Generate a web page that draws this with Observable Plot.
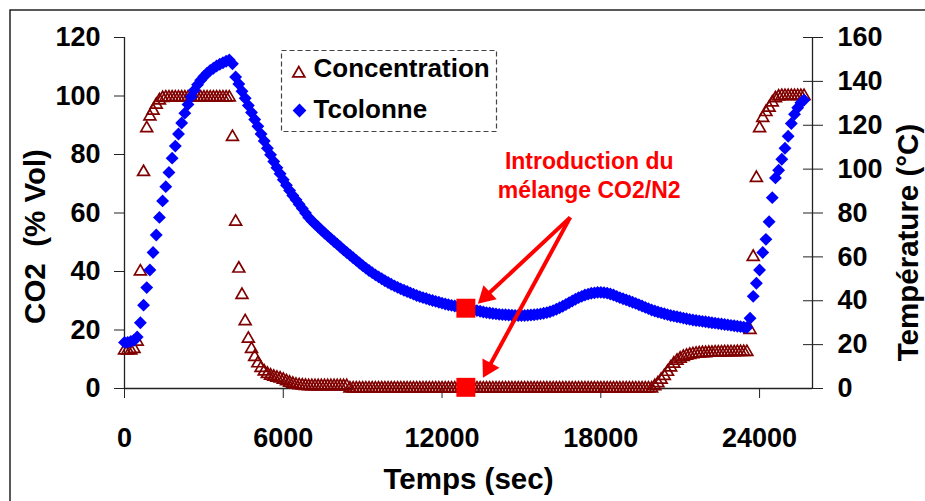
<!DOCTYPE html>
<html>
<head>
<meta charset="utf-8">
<script src="https://cdn.jsdelivr.net/npm/d3@7"></script>
<script src="https://cdn.jsdelivr.net/npm/@observablehq/plot@0.6"></script>
<style>
  html, body { margin: 0; padding: 0; background: #fff; overflow: hidden; }
</style>
</head>
<body>
<div id="chart"></div>
<script>
// Sampling times (s)
const time = [
  0,120,240,360,480,600,720,840,960,1080,
  1200,1320,1440,1560,1680,1800,1920,2040,2160,2280,
  2400,2520,2640,2760,2880,3000,3120,3240,3360,3480,
  3600,3720,3840,3960,4080,4200,4320,4440,4560,4680,
  4800,4920,5040,5160,5280,5400,5520,5640,5760,5880,
  6000,6120,6240,6360,6480,6600,6720,6840,6960,7080,
  7200,7320,7440,7560,7680,7800,7920,8040,8160,8280,
  8400,8520,8640,8760,8880,9000,9120,9240,9360,9480,
  9600,9720,9840,9960,10080,10200,10320,10440,10560,10680,
  10800,10920,11040,11160,11280,11400,11520,11640,11760,11880,
  12000,12120,12240,12360,12480,12600,12720,12840,12960,13080,
  13200,13320,13440,13560,13680,13800,13920,14040,14160,14280,
  14400,14520,14640,14760,14880,15000,15120,15240,15360,15480,
  15600,15720,15840,15960,16080,16200,16320,16440,16560,16680,
  16800,16920,17040,17160,17280,17400,17520,17640,17760,17880,
  18000,18120,18240,18360,18480,18600,18720,18840,18960,19080,
  19200,19320,19440,19560,19680,19800,19920,20040,20160,20280,
  20400,20520,20640,20760,20880,21000,21120,21240,21360,21480,
  21600,21720,21840,21960,22080,22200,22320,22440,22560,22680,
  22800,22920,23040,23160,23280,23400,23520,23640,23760,23880,
  24000,24120,24240,24360,24480,24600,24720,24840,24960,25080,
  25200,25320,25440,25560,25680
];

// CO2 concentration (% Vol), left axis
const concentration = [
  13,13,13,13.5,16,40,74,89,93,95,
  97,98.5,99.3,99.5,99.5,99.5,99.5,99.5,99.5,99.5,
  99.5,99.5,99.5,99.5,99.5,99.5,99.5,99.5,99.5,99.5,
  99.5,99.5,99.5,99.5,86,57,41,32,23,17,
  13.5,10.8,8.6,7,5.8,5,4.4,4,3.7,3.4,
  3,2.5,2,1.6,1.3,1.1,1,0.9,0.8,0.8,
  0.8,0.8,0.8,0.8,0.8,0.8,0.8,0.8,0.8,0.8,
  0.8,0,0,0,0,0,0,0,0,0,
  0,0,0,0,0,0,0,0,0,0,
  0,0,0,0,0,0,0,0,0,0,
  0,0,0,0,0,0,0,0,0,0,
  0,0,0,0,0,0,0,0,0,0,
  0,0,0,0,0,0,0,0,0,0,
  0,0,0,0,0,0,0,0,0,0,
  0,0,0,0,0,0,0,0,0,0,
  0,0,0,0,0,0,0,0,0,0,
  0,0,0,0,0,0,0,0.8,1.8,3,
  4.3,5.7,7.2,8.5,9.5,10.2,10.8,11.2,11.5,11.7,
  11.9,12,12.1,12.1,12.2,12.2,12.3,12.3,12.3,12.4,
  12.4,12.4,12.4,12.5,12.5,12.5,12.5,20,45,72,
  89,92.5,94.5,96,97.8,99.2,99.8,100,100,100,
  100,100,100,100,100
];

// Column temperature (°C), right axis
const tcolonne = [
  21,21,21.5,22,23.5,30,38,46,54,62,
  70,78,85.5,92,98.5,105,110.5,116,121,125.5,
  129.5,133,136,138.5,140.5,142.2,143.7,145,146,147,
  147.8,148.5,149.2,149.8,148,142,138.8,135.5,132.3,129,
  125.8,122.6,119.5,116,112.8,109.5,106.5,103.5,100.6,97.9,
  95.2,92.6,90.2,88,86,84,82,80,78,76.4,
  75,73.6,72.2,70.9,69.6,68.3,67,65.8,64.5,63.2,
  62,60.8,59.6,58.4,57.2,56,54.9,53.8,52.8,51.8,
  50.9,50,49.1,48.3,47.5,46.8,46.1,45.4,44.8,44.2,
  43.6,43,42.4,41.9,41.4,41,40.5,40.1,39.7,39.3,
  38.9,38.5,38.2,37.9,37.6,37.3,37,36.7,36.4,36.1,
  35.8,35.5,35.2,34.9,34.6,34.4,34.2,34,33.8,33.7,
  33.6,33.5,33.4,33.3,33.3,33.3,33.3,33.4,33.5,33.6,
  33.8,34,34.3,34.6,35,35.5,36.1,36.8,37.5,38.3,
  39.1,39.9,40.7,41.4,42,42.6,43,43.4,43.6,43.8,
  43.8,43.7,43.5,43.1,42.6,42,41.4,40.9,40.4,39.9,
  39.3,38.8,38.2,37.6,37,36.4,35.8,35.3,34.9,34.5,
  34.1,33.7,33.3,33,32.7,32.4,32.1,31.8,31.5,31.2,
  31,30.8,30.6,30.4,30.2,30,29.8,29.6,29.4,29.2,
  29,28.8,28.6,28.4,28.2,28,27.8,32,42,48,
  54,62,68,76,87,96,99.5,104.5,109.5,115,
  120.8,125,128,130.2,131.5
];

const xTicks = [0, 6000, 12000, 18000, 24000];
const co2Ticks = [0, 20, 40, 60, 80, 100, 120];
const tempTicks = [0, 20, 40, 60, 80, 100, 120, 140, 160];
const seriesNames = ["Concentration", "Tcolonne"];

// Injection of the CO2/N2 mixture
const injection = [{t: 12900, co2: 0.4, temp: 36.6}];
const arrows = [
  {x1: 16843, y1: 58.5, x2: 13661, y2: 31.6, angle: 227},
  {x1: 16843, y1: 58.5, x2: 13748, y2: 7.0, angle: 208.5}
];
const notes = [
  {t: 17561, v: 75.2, label: "Introduction du"},
  {t: 17561, v: 64.96, label: "mélange CO2/N2"}
];

const k = 120 / 160; // temperature → left-axis units
const rows = time.map((t, i) => ({t, co2: concentration[i], temp: tcolonne[i]}));

const maroon = "#800000";
const blue = "#0000ff";
const red = "#ff0000";

const chart = Plot.plot({
  width: 925,
  height: 501,
  marginLeft: 124,
  marginRight: 113,
  marginTop: 37,
  marginBottom: 113,
  style: {
    fontFamily: "'Liberation Sans', Arial, sans-serif",
    fontSize: "27px",
    fontWeight: "bold",
    color: "#000",
    background: "#fff",
    overflow: "hidden"
  },
  x: {domain: [0, 26000]},
  y: {domain: [0, 120]},
  marks: [
    // outer chart border (only top and left visible)
    Plot.frame({insetLeft: -114.5, insetTop: -27.5, insetRight: -400, insetBottom: -400, stroke: "#000", strokeWidth: 1.3}),
    // legend box
    Plot.frame({insetLeft: 157, insetTop: 13, insetRight: 316, insetBottom: 257, stroke: "#444", strokeWidth: 1.2, strokeDasharray: "5,3"}),
    // axis lines
    Plot.ruleX([0], {stroke: "#222", strokeWidth: 1.3}),
    Plot.ruleX([26000], {stroke: "#222", strokeWidth: 1.3}),
    Plot.ruleY([0], {stroke: "#222", strokeWidth: 1.3}),
    Plot.axisX({ticks: xTicks, tickFormat: d => String(d), tickSize: 10, tickPadding: 29, label: null, stroke: "#222"}),
    Plot.axisY({ticks: co2Ticks, tickSize: 10, tickPadding: 14, label: null, stroke: "#222"}),
    Plot.axisY({anchor: "right", ticks: tempTicks.map(v => v * k), tickFormat: d => String(Math.round(d / k)),
      tickSize: 20, dx: -10, tickPadding: 15, label: null, stroke: "#222"}),
    // series
    Plot.dot(rows, {x: "t", y: "co2", symbol: "triangle", r: 4.4, stroke: maroon, strokeWidth: 1.7, fill: "none"}),
    Plot.dot(rows, {x: "t", y: d => d.temp * k, symbol: "diamond2", r: 5.8, fill: blue, stroke: "none"}),
    // injection markers
    Plot.dot(injection, {x: "t", y: d => d.temp * k, symbol: "square", r: 10.7, fill: red}),
    Plot.dot(injection, {x: "t", y: "co2", symbol: "square", r: 10.7, fill: red}),
    // arrows
    Plot.link(arrows, {x1: "x1", y1: "y1", x2: "x2", y2: "y2", stroke: red, strokeWidth: 4}),
    Plot.dot(arrows, {x: "x2", y: "y2", symbol: "triangle", r: 7.2, fill: red, rotate: "angle"}),
    Plot.text(notes, {x: "t", y: "v", text: "label", fill: red, fontSize: 23, lineAnchor: "bottom"}),
    // legend
    Plot.dot([0], {frameAnchor: "top-left", dx: 174.3, dy: 36, symbol: "triangle", r: 4.4, stroke: maroon, strokeWidth: 1.8, fill: "none"}),
    Plot.dot([0], {frameAnchor: "top-left", dx: 175, dy: 73, symbol: "diamond2", r: 6.2, fill: blue}),
    Plot.text([seriesNames[0]], {frameAnchor: "top-left", dx: 189, dy: 31.5, textAnchor: "start", lineAnchor: "middle", fontSize: 26}),
    Plot.text([seriesNames[1]], {frameAnchor: "top-left", dx: 189, dy: 72, textAnchor: "start", lineAnchor: "middle", fontSize: 26}),
    // axis titles
    Plot.text(["Temps (sec)"], {frameAnchor: "bottom", dy: 91, textAnchor: "middle", lineAnchor: "middle", fontSize: 29.5}),
    Plot.text(["CO2  (% Vol)"], {frameAnchor: "left", dx: -89, dy: 23.5, rotate: -90, textAnchor: "middle", lineAnchor: "middle", fontSize: 29.5}),
    Plot.text(["Température (°C)"], {frameAnchor: "right", dx: 96, dy: 29.5, rotate: -90, textAnchor: "middle", lineAnchor: "middle", fontSize: 29.5})
  ]
});

document.getElementById("chart").append(chart);
</script>
</body>
</html>
